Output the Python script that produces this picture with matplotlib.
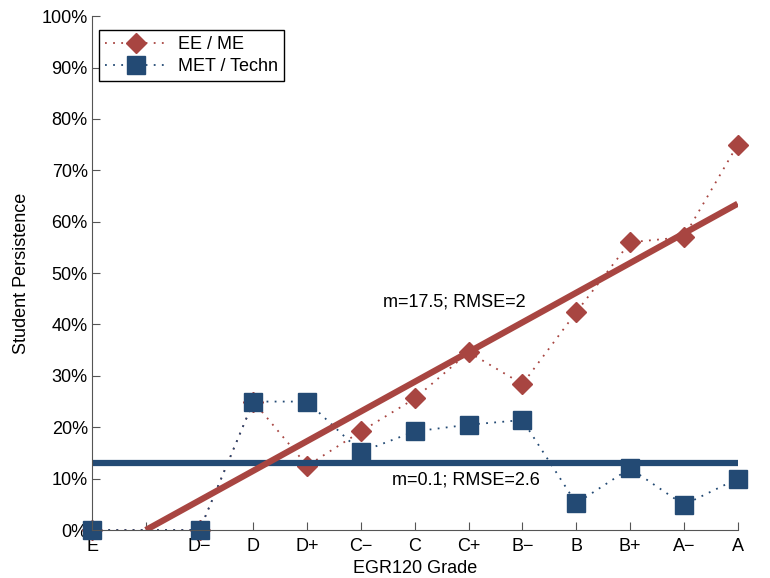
import numpy as np
import matplotlib
matplotlib.use('Agg')
import matplotlib.pyplot as plt
from matplotlib.ticker import PercentFormatter

plt.rcParams['font.family'] = ['Liberation Sans', 'DejaVu Sans']

# grades on the x axis (position 1 has no label)
grades = ['E', '', 'D\u2212', 'D', 'D+', 'C\u2212', 'C', 'C+', 'B\u2212', 'B', 'B+', 'A\u2212', 'A']
ee_x = [0, 2, 3, 4, 5, 6, 7, 8, 9, 10, 11, 12]
ee_me = [0, 0, 25, 12.5, 19.2, 25.6, 34.6, 28.4, 42.4, 56, 57, 75]
met_x = [0, 2, 3, 4, 5, 6, 7, 8, 9, 10, 11, 12]
met_tech = [0, 0, 25, 25, 15.2, 19.2, 20.5, 21.4, 5.2, 12, 4.9, 10]

# fitted lines (end points)
ee_fit_x = [1, 12]
ee_fit_y = [0, 63.5]
met_fit_x = [0, 12]
met_fit_y = [13, 13]

red = '#a84541'
blue = '#234a74'
axcol = '#555555'
fs = 13

fig = plt.figure(figsize=(7.7, 5.78), dpi=100)
ax = fig.add_axes([0.1195, 0.083, 0.8385, 0.889])

ax.plot(ee_x, ee_me, linestyle=(0, (1, 3.5)), color=red, lw=1.3, clip_on=False,
        marker='D', markersize=10, markeredgecolor=red, label='EE / ME')
ax.plot(met_x, met_tech, linestyle=(0, (1, 3.5)), color=blue, lw=1.3, clip_on=False,
        marker='s', markersize=13, markeredgecolor=blue, label='MET / Techn')
ax.plot(met_fit_x, met_fit_y, color=blue, lw=4.5, solid_capstyle='butt')
ax.plot(ee_fit_x, ee_fit_y, color=red, lw=4.5, solid_capstyle='butt')

# annotation positions in pixels from the top-left corner
ax.text(383, 578 - 302, 'm=17.5; RMSE=2', transform=None, fontsize=fs, va='center')
ax.text(392, 578 - 480, 'm=0.1; RMSE=2.6', transform=None, fontsize=fs, va='center')

ax.set_xlim(0, 12)
ax.set_ylim(0, 100)
ax.set_xticks(range(len(grades)))
ax.set_xticklabels(grades)
ax.set_yticks(np.arange(0, 101, 10))
ax.yaxis.set_major_formatter(PercentFormatter(decimals=0))
ax.tick_params(direction='in', length=6, colors=axcol, labelcolor='black', labelsize=fs)
ax.tick_params(axis='x', pad=6)
ax.tick_params(axis='y', pad=3)
for s in ['top', 'right']:
    ax.spines[s].set_visible(False)
for s in ['left', 'bottom']:
    ax.spines[s].set_color(axcol)
ax.set_xlabel('EGR120 Grade', fontsize=fs, labelpad=3)
ax.set_ylabel('Student Persistence', fontsize=fs, labelpad=8)

leg = ax.legend(loc='upper left', bbox_to_anchor=(0.011, 0.973), fontsize=fs,
                fancybox=False, edgecolor='black', framealpha=1, borderaxespad=0,
                handlelength=3.4, borderpad=0.35, labelspacing=0.25, handletextpad=0.6)
leg.get_frame().set_linewidth(1.0)

fig.savefig('out.png', dpi=100)
